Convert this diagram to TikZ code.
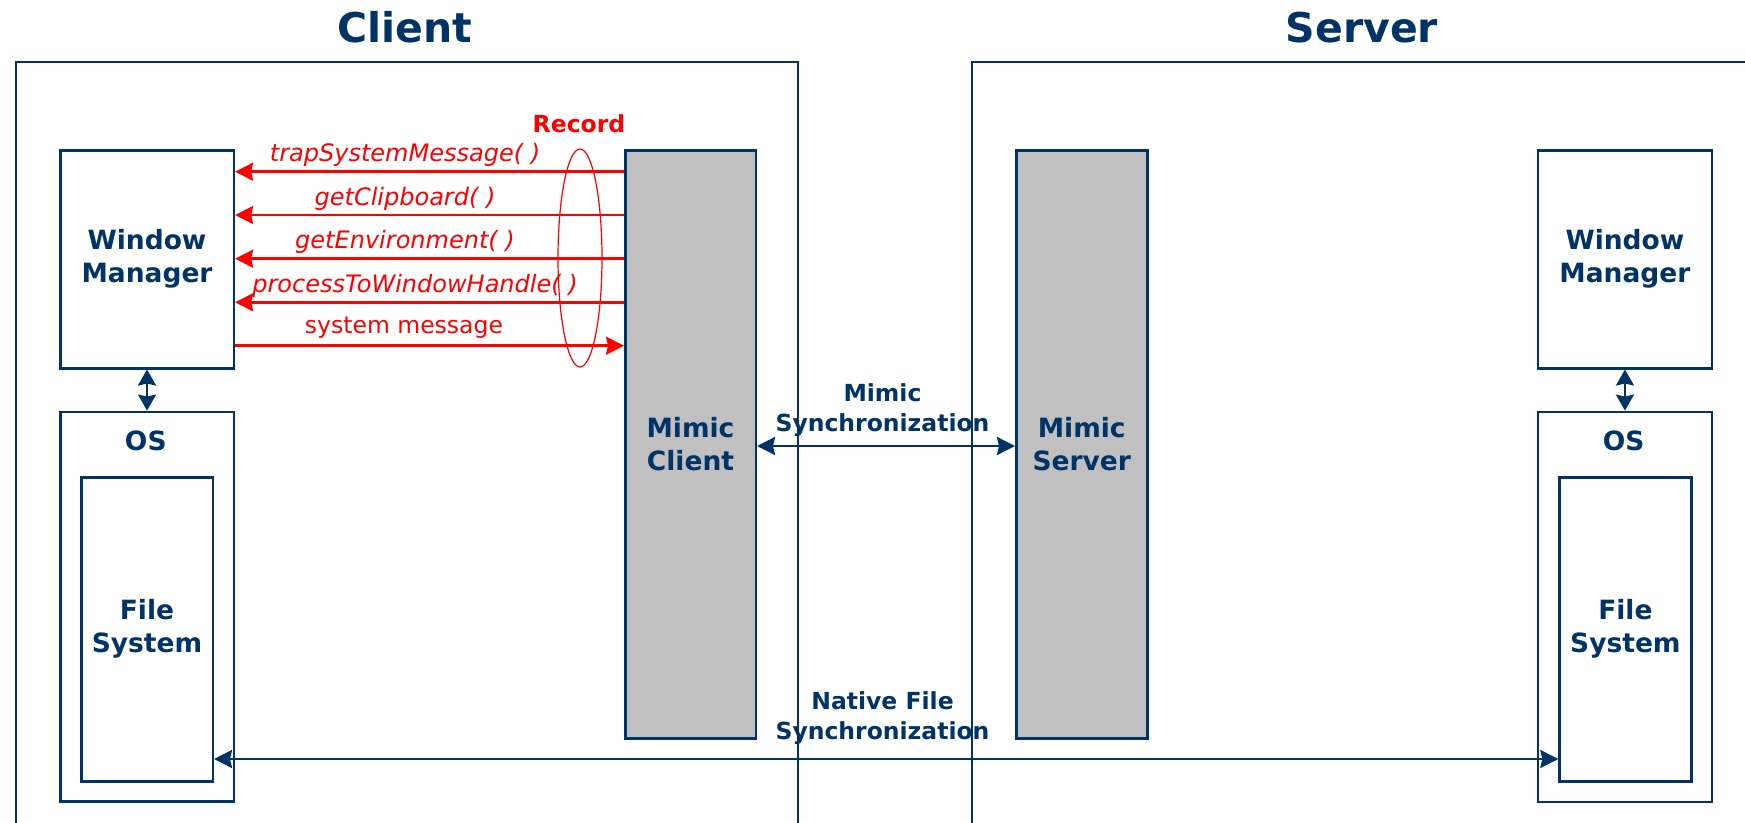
\documentclass[tikz,border=0pt]{standalone}
\usepackage{fontspec}
\setmainfont{DejaVu Sans}
\usetikzlibrary{arrows.meta,shapes.geometric}
\definecolor{navy}{RGB}{0,51,102}
\definecolor{boxgray}{RGB}{192,192,192}
\begin{document}
\begin{tikzpicture}[x=1pt,y=-1pt,
  box/.style={draw=navy, line width=2.5pt, text=navy, anchor=north west, inner sep=0pt,
    align=center, font=\fontsize{26.5}{33}\selectfont\bfseries},
  mimicbox/.style={box, fill=boxgray},
  frame/.style={draw=navy, line width=2.2pt},
  title/.style={text=navy, font=\fontsize{41}{48}\selectfont\bfseries, inner sep=0pt},
  bluelab/.style={text=navy, font=\fontsize{26.5}{33}\selectfont\bfseries, inner sep=0pt},
  synclab/.style={text=navy, align=center, font=\fontsize{23.5}{30}\selectfont\bfseries, inner sep=0pt},
  redlab/.style={text=red, font=\fontsize{24}{28}\selectfont\itshape, inner sep=0pt, anchor=base},
  redarrow/.style={draw=red, line width=2.5pt, -{Stealth[length=18pt,width=18pt,inset=2pt]}},
  bluearrow/.style={draw=navy, line width=2.5pt, {Stealth[length=18pt,width=18pt,inset=2pt]}-{Stealth[length=18pt,width=18pt,inset=2pt]}},
  smallarrow/.style={draw=navy, line width=2.5pt, {Stealth[length=16pt,width=18pt,inset=2pt]}-{Stealth[length=16pt,width=18pt,inset=2pt]}}
]
\useasboundingbox (0,0) rectangle (1745,822);

% titles
\node[title, anchor=base] (tclient) at (405,42) {Client};
\node[title, anchor=base] (tserver) at (1362,42) {Server};

% client side boxes
\node[box, minimum width=173.6pt, minimum height=218pt] (wmL) at (59,149) {Window\\Manager};
\node[box, minimum width=173.6pt, minimum height=389.4pt] (osL) at (59,410.6) {};
\node[bluelab, anchor=base] (osLl) at (145.8,450) {OS};
\node[box, minimum width=131.5pt, minimum height=304pt] (fsL) at (80,476) {File\\System};
\node[mimicbox, minimum width=130.5pt, minimum height=588pt, text depth=0pt] (mc) at (624,149) {Mimic\\Client};

% server side boxes
\node[mimicbox, minimum width=131pt, minimum height=588pt, text depth=0pt] (ms) at (1015,149) {Mimic\\Server};
\node[box, minimum width=174pt, minimum height=218pt] (wmR) at (1536.7,149) {Window\\Manager};
\node[box, minimum width=174pt, minimum height=390pt] (osR) at (1536.7,410.6) {};
\node[bluelab, anchor=base] (osRl) at (1623.7,450) {OS};
\node[box, minimum width=131.7pt, minimum height=304pt] (fsR) at (1558.3,476) {File\\System};

% record ellipse
\node[draw=red, line width=1.2pt, ellipse, minimum width=44pt, minimum height=218pt, inner sep=0pt] (rec) at (580,258) {};
\node[text=red, font=\fontsize{23.5}{28}\selectfont\bfseries, inner sep=0pt, anchor=base] (recl) at (579,132) {Record};

% red call arrows
\coordinate (r1) at (0,171.7);
\coordinate (r2) at (0,215);
\coordinate (r3) at (0,258.7);
\coordinate (r4) at (0,302.3);
\coordinate (r5) at (0,345.7);
\draw[redarrow] (mc.west |- r1) -- (wmL.east |- r1);
\draw[redarrow] (mc.west |- r2) -- (wmL.east |- r2);
\draw[redarrow] (mc.west |- r3) -- (wmL.east |- r3);
\draw[redarrow] (mc.west |- r4) -- (wmL.east |- r4);
\draw[redarrow] (wmL.east |- r5) -- (mc.west |- r5);
\node[redlab] (l1) at (405,161.5) {trapSystemMessage( )};
\node[redlab] (l2) at (405,205) {getClipboard( )};
\node[redlab] (l3) at (405,248.5) {getEnvironment( )};
\node[redlab] (l4) at (415,292.5) {processToWindowHandle( )};
\node[redlab, font=\fontsize{23.5}{28}\selectfont] (l5) at (404,333.5) {system message};

% WM <-> OS
\draw[smallarrow] (wmL.south) -- (osL.north);
\draw[smallarrow] (wmR.south) -- (osR.north);

% mimic synchronization
\coordinate (ys) at (0,446);
\draw[bluearrow] (mc.east |- ys) -- (ms.west |- ys);
\node[synclab] (syncl) at (882.5,410) {Mimic\\Synchronization};

% native file synchronization
\coordinate (yn) at (0,759);
\draw[bluearrow] (fsL.east |- yn) -- (fsR.west |- yn);
\node[synclab] (natl) at (882.5,718.5) {Native File\\Synchronization};

% frames
\draw[frame] (15.6,830) -- (15.6,62.3) -- (798,62.3) -- (798,830);
\draw[frame] (971.6,830) -- (971.6,62.3) -- (1760,62.3);
\end{tikzpicture}
\end{document}
